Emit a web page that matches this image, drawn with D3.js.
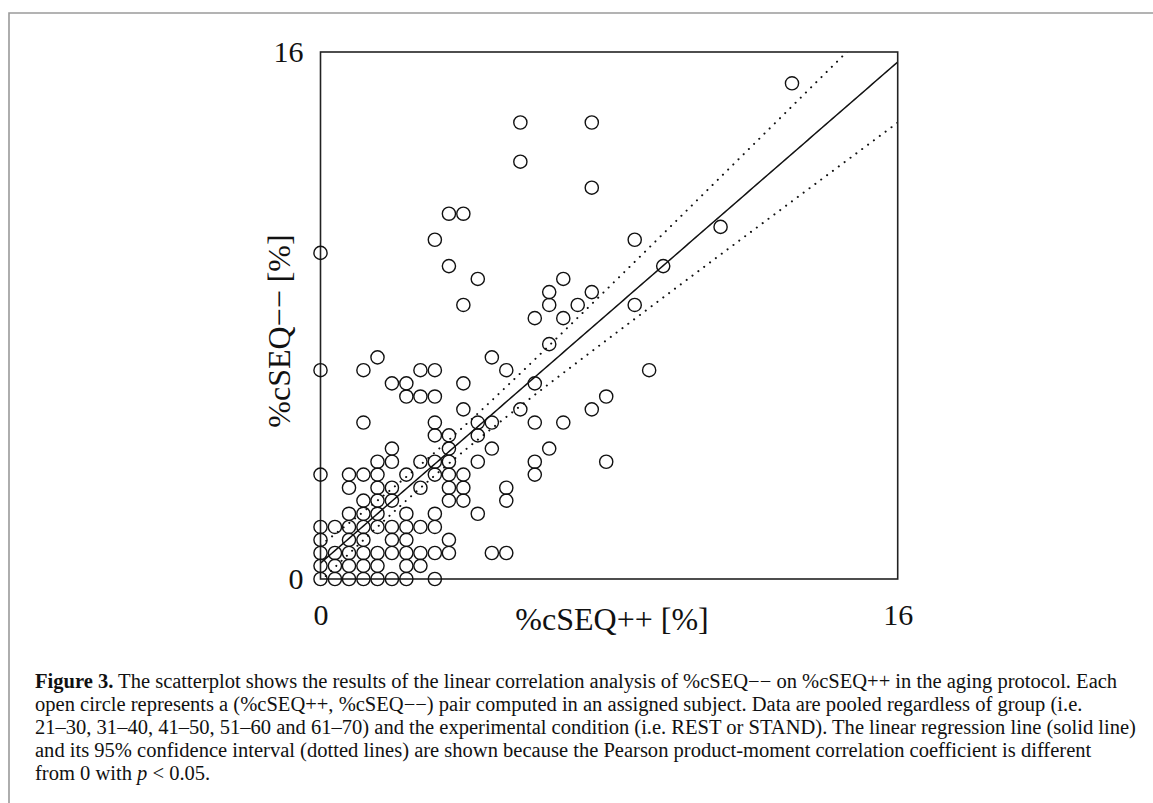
<!DOCTYPE html>
<html>
<head>
<meta charset="utf-8">
<script src="https://cdn.jsdelivr.net/npm/d3@7"></script>
<style>
  body { margin: 0; background: #fff; }
  svg text { font-family: "Liberation Serif", "Times New Roman", serif; fill: #111; }
</style>
</head>
<body>
<svg id="fig" width="1153" height="803"></svg>
<script>
// %cSEQ-- levels (y) and the %cSEQ++ values (x) found on each level
const yLevels = [0, 0.40, 0.79, 1.19, 1.58, 1.98, 2.38, 2.77, 3.17, 3.56, 3.96, 4.36, 4.75, 5.15, 5.54, 5.94,
  6.34, 6.73, 7.13, 7.92, 8.32, 8.71, 9.11, 9.50, 9.90, 10.30, 10.69, 11.09, 11.88, 12.67, 13.86, 15.05];
const xAtLevel = [
  [0, 0.40, 0.79, 1.19, 1.58, 1.98, 2.38, 3.17],
  [0, 0.40, 0.79, 1.19, 1.58, 2.38, 2.77],
  [0, 0.40, 0.79, 1.19, 1.58, 1.98, 2.38, 2.77, 3.17, 3.56, 4.75, 5.15],
  [0, 0.79, 1.19, 1.98, 2.38, 3.56],
  [0, 0.40, 0.79, 1.19, 1.58, 1.98, 2.38, 2.77, 3.17],
  [0.79, 1.19, 1.58, 2.38, 3.17, 4.36],
  [1.19, 1.58, 1.98, 3.56, 3.96, 5.15],
  [0.79, 1.58, 1.98, 2.77, 3.56, 3.96, 5.15],
  [0, 0.79, 1.19, 1.58, 2.38, 3.17, 3.56, 3.96, 5.94],
  [1.58, 1.98, 2.77, 3.17, 3.56, 4.36, 5.94, 7.92],
  [1.98, 3.56, 4.75, 6.34],
  [3.17, 3.56, 4.36],
  [1.19, 3.17, 4.36, 4.75, 5.94, 6.73],
  [3.96, 5.54, 7.52],
  [2.38, 2.77, 3.17, 7.92],
  [1.98, 2.38, 3.96, 5.94],
  [0, 1.19, 2.77, 3.17, 5.15, 9.11],
  [1.58, 4.75],
  [6.34],
  [5.94, 6.73],
  [3.96, 6.34, 7.13, 8.71],
  [6.34, 7.52],
  [4.36, 6.73],
  [3.56, 9.50],
  [0],
  [3.17, 8.71],
  [11.09],
  [3.56, 3.96],
  [7.52],
  [5.54],
  [5.54, 7.52],
  [13.07]
];
const xTicks = [0, 16];
const yTicks = [0, 16];

// regression line and its 95% confidence band
const fitIntercept = 0.48, fitSlope = 0.951;
const ciCentre = 3.0, ciBase = 0.1216, ciSpread = 0.0193;

const captionLines = [
  [["Figure 3.", "bold"], [" The scatterplot shows the results of the linear correlation analysis of %cSEQ\u2212\u2212 on %cSEQ++ in the aging protocol. Each", ""]],
  [["open circle represents a (%cSEQ++, %cSEQ\u2212\u2212) pair computed in an assigned subject. Data are pooled regardless of group (i.e.", ""]],
  [["21\u201330, 31\u201340, 41\u201350, 51\u201360 and 61\u201370) and the experimental condition (i.e. REST or STAND). The linear regression line (solid line)", ""]],
  [["and its 95% confidence interval (dotted lines) are shown because the Pearson product-moment correlation coefficient is different", ""]],
  [["from 0 with ", ""], ["p", "italic"], [" < 0.05.", ""]]
];

const points = yLevels.flatMap((yv, i) => xAtLevel[i].map(xv => ({ x: xv, y: yv })));

const svg = d3.select("#fig");

// page frame (top and left edges)
svg.append("path")
  .attr("d", "M9,803V13H1153")
  .attr("fill", "none")
  .attr("stroke", "#9a9a9a")
  .attr("stroke-width", 1.6);

const x = d3.scaleLinear().domain([0, 16]).range([320.5, 897.7]);
const y = d3.scaleLinear().domain([0, 16]).range([579, 52]);

svg.append("clipPath").attr("id", "plotclip")
  .append("rect")
  .attr("x", x(0)).attr("y", y(16))
  .attr("width", x(16) - x(0)).attr("height", y(0) - y(16));

// axes: labels only
const gx = svg.append("g")
  .attr("transform", `translate(0,${y(0)})`)
  .call(d3.axisBottom(x).tickValues(xTicks).tickSize(0).tickPadding(25).tickFormat(d3.format("d")));
gx.select(".domain").remove();
gx.attr("font-size", 30).attr("font-family", null);

const gy = svg.append("g")
  .attr("transform", `translate(${x(0)},0)`)
  .call(d3.axisLeft(y).tickValues(yTicks).tickSize(0).tickPadding(17).tickFormat(d3.format("d")));
gy.select(".domain").remove();
gy.attr("font-size", 30).attr("font-family", null);
svg.selectAll(".tick text").attr("fill", "#111");

svg.append("text")
  .attr("x", 612).attr("y", 630)
  .attr("text-anchor", "middle")
  .attr("font-size", 32)
  .text("%cSEQ++ [%]");

svg.append("text")
  .attr("transform", "translate(290,331) rotate(-90)")
  .attr("text-anchor", "middle")
  .attr("font-size", 32)
  .text("%cSEQ\u2212\u2212 [%]");

// regression line + confidence band
const xs = d3.range(0, 16.001, 0.1);
const half = v => Math.sqrt(ciBase + ciSpread * (v - ciCentre) * (v - ciCentre));
const fit = v => fitIntercept + fitSlope * v;
const line = d3.line().x(d => x(d[0])).y(d => y(d[1]));

const lines = svg.append("g").attr("clip-path", "url(#plotclip)").attr("fill", "none");
lines.append("path")
  .attr("d", line(xs.map(v => [v, fit(v)])))
  .attr("stroke", "#111").attr("stroke-width", 1.5);
[1, -1].forEach(sign => {
  lines.append("path")
    .attr("d", line(xs.map(v => [v, fit(v) + sign * half(v)])))
    .attr("stroke", "#111").attr("stroke-width", 2)
    .attr("stroke-linecap", "round")
    .attr("stroke-dasharray", "0.1 7.2");
});

// plot frame
svg.append("rect")
  .attr("x", x(0)).attr("y", y(16))
  .attr("width", x(16) - x(0)).attr("height", y(0) - y(16))
  .attr("fill", "none").attr("stroke", "#222").attr("stroke-width", 1.6);

// open circles
svg.append("g").selectAll("circle")
  .data(points)
  .join("circle")
  .attr("cx", d => x(d.x))
  .attr("cy", d => y(d.y))
  .attr("r", 6.6)
  .attr("fill", "none")
  .attr("stroke", "#111")
  .attr("stroke-width", 1.4);

// caption
const cap = svg.append("g").attr("font-size", 19);
const capTexts = captionLines.map((parts, i) => {
  const t = cap.append("text").attr("x", 35).attr("y", 688 + i * 23.1);
  parts.forEach(([s, style]) => {
    const ts = t.append("tspan").text(s);
    if (style === "bold") ts.attr("font-weight", "bold");
    if (style === "italic") ts.attr("font-style", "italic");
  });
  return t;
});
// fit font size so the first line spans the measured width
const k = 1083 / capTexts[0].node().getComputedTextLength();
cap.attr("font-size", 19 * k);
</script>
</body>
</html>
